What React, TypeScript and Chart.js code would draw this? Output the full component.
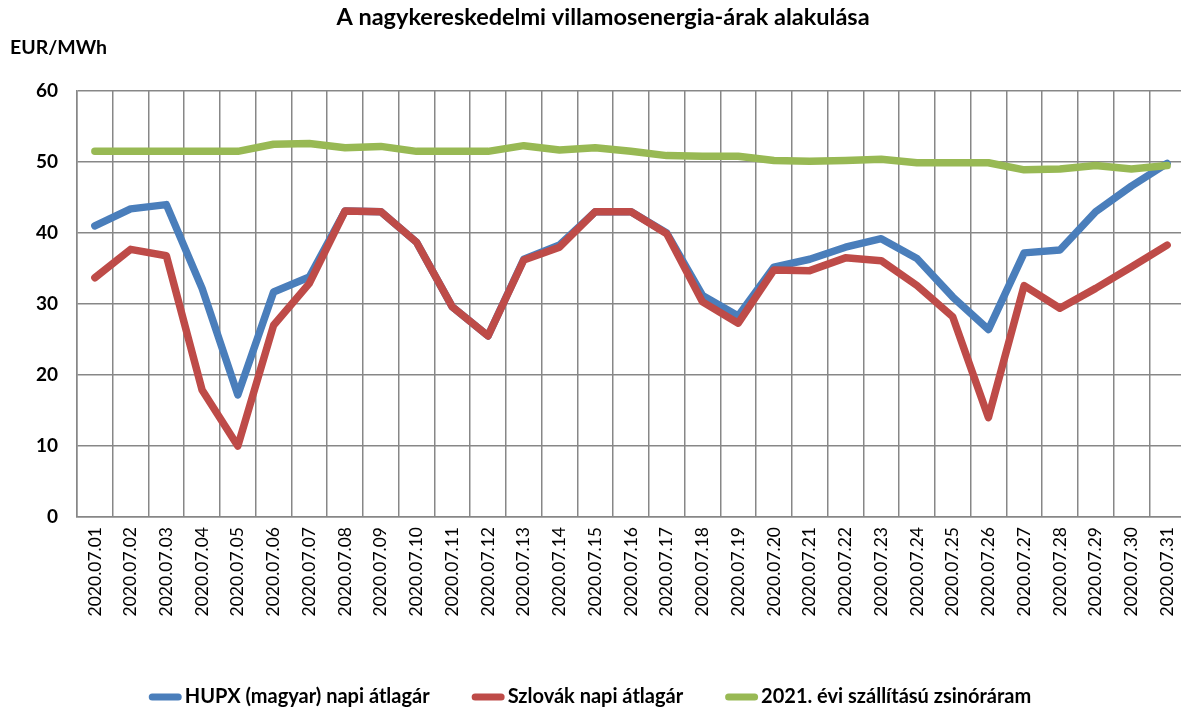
import React, { useEffect, useRef } from "react";
import { Chart, registerables } from "chart.js";

Chart.register(...registerables);

const TITLE = "A nagykereskedelmi villamosenergia-árak alakulása";
const UNIT = "EUR/MWh";

const categories = [
  "2020.07.01", "2020.07.02", "2020.07.03", "2020.07.04", "2020.07.05", "2020.07.06",
  "2020.07.07", "2020.07.08", "2020.07.09", "2020.07.10", "2020.07.11", "2020.07.12",
  "2020.07.13", "2020.07.14", "2020.07.15", "2020.07.16", "2020.07.17", "2020.07.18",
  "2020.07.19", "2020.07.20", "2020.07.21", "2020.07.22", "2020.07.23", "2020.07.24",
  "2020.07.25", "2020.07.26", "2020.07.27", "2020.07.28", "2020.07.29", "2020.07.30",
  "2020.07.31",
];

const hupx = [
  41.0, 43.4, 44.0, 32.2, 17.2, 31.7, 33.8, 43.1, 43.0, 38.7, 29.6, 25.5, 36.3, 38.3,
  43.0, 43.0, 40.0, 31.2, 28.3, 35.2, 36.3, 38.0, 39.2, 36.4, 31.0, 26.4, 37.2, 37.6,
  43.0, 46.6, 49.8,
];

const szlovak = [
  33.7, 37.7, 36.8, 17.9, 10.0, 27.0, 32.9, 43.1, 43.0, 38.7, 29.6, 25.5, 36.2, 38.0,
  43.0, 43.0, 39.9, 30.3, 27.3, 34.8, 34.7, 36.5, 36.1, 32.6, 28.2, 14.0, 32.6, 29.4,
  32.2, 35.2, 38.3,
];

const zsinor = [
  51.5, 51.5, 51.5, 51.5, 51.5, 52.5, 52.6, 52.0, 52.2, 51.5, 51.5, 51.5, 52.3, 51.7,
  52.0, 51.5, 50.9, 50.8, 50.8, 50.2, 50.1, 50.2, 50.4, 49.9, 49.9, 49.9, 48.9, 49.0,
  49.5, 49.0, 49.5,
];

const seriesNames = [
  "HUPX (magyar) napi átlagár",
  "Szlovák napi átlagár",
  "2021. évi szállítású zsinóráram",
];
const seriesColors = ["#4a7ebb", "#be4b48", "#98b954"];

const yTicks = [0, 10, 20, 30, 40, 50, 60];

const FONT = "Lato, 'Open Sans', sans-serif";
const GRID = "#878787";

const textPlugin = {
  id: "customTexts",
  afterDraw(chart: any) {
    const ctx = chart.ctx as CanvasRenderingContext2D;
    ctx.save();
    ctx.fillStyle = "#000";
    ctx.textBaseline = "middle";
    // title
    ctx.font = `bold 23.5px ${FONT}`;
    ctx.textAlign = "center";
    ctx.fillText(TITLE, 603, 17);
    // unit
    ctx.font = `bold 19.5px ${FONT}`;
    ctx.textAlign = "left";
    ctx.fillText(UNIT, 10, 48);
    // legend
    ctx.font = `bold 20px ${FONT}`;
    const markerW = 33;
    const markerGap = 3;
    const itemGap = 42;
    const widths = seriesNames.map((n) => ctx.measureText(n).width);
    const total =
      widths.reduce((a, b) => a + b, 0) + seriesNames.length * (markerW + markerGap) + itemGap * (seriesNames.length - 1);
    let x = 590 - total / 2;
    const y = 697;
    seriesNames.forEach((name, i) => {
      ctx.strokeStyle = seriesColors[i];
      ctx.lineWidth = 7;
      ctx.lineCap = "round";
      ctx.beginPath();
      ctx.moveTo(x + 3.5, y);
      ctx.lineTo(x + markerW - 3.5, y);
      ctx.stroke();
      ctx.fillStyle = "#000";
      ctx.textAlign = "left";
      ctx.fillText(name, x + markerW + markerGap, y);
      x += markerW + markerGap + widths[i] + itemGap;
    });
    ctx.restore();
  },
};

export default function App() {
  const canvasRef = useRef<HTMLCanvasElement | null>(null);

  useEffect(() => {
    if (!canvasRef.current) return;
    const mk = (i: number, data: number[], order: number) => ({
      label: seriesNames[i],
      data,
      borderColor: seriesColors[i],
      backgroundColor: seriesColors[i],
      borderWidth: 7.5,
      borderJoinStyle: "round" as const,
      borderCapStyle: "round" as const,
      pointRadius: 0,
      pointHoverRadius: 0,
      tension: 0,
      fill: false,
      order,
    });
    const chart = new Chart(canvasRef.current, {
      type: "line",
      data: {
        labels: categories,
        datasets: [mk(0, hupx, 3), mk(1, szlovak, 2), mk(2, zsinor, 1)],
      },
      options: {
        responsive: false,
        animation: false,
        layout: { padding: { left: 0, right: 15, top: 91, bottom: 0 } },
        plugins: {
          legend: { display: false },
          title: { display: false },
          tooltip: { enabled: false },
        },
        scales: {
          x: {
            type: "category",
            offset: true,
            grid: {
              offset: true,
              color: GRID,
              lineWidth: 1.5,
              drawTicks: false,
            },
            border: { color: GRID, width: 1.5 },
            ticks: {
              autoSkip: false,
              maxRotation: 90,
              minRotation: 90,
              padding: 10,
              color: "#000",
              font: { family: FONT, size: 17.5 },
            },
            afterFit: (scale: any) => {
              scale.height = 194;
            },
          },
          y: {
            min: 0,
            max: 60,
            afterBuildTicks: (scale: any) => {
              scale.ticks = yTicks.map((v) => ({ value: v }));
            },
            grid: { color: GRID, lineWidth: 1.5, drawTicks: false },
            border: { color: GRID, width: 1.5 },
            ticks: {
              padding: 19,
              color: "#000",
              font: { family: FONT, size: 19, weight: "bold" },
            },
            afterFit: (scale: any) => {
              scale.width = 77;
            },
          },
        },
      },
      plugins: [textPlugin],
    });
    return () => chart.destroy();
  }, []);

  return (
    <div
      style={{
        position: "fixed",
        left: 0,
        top: 0,
        width: 1181,
        height: 711,
        overflow: "hidden",
        background: "#fff",
      }}
    >
      <canvas ref={canvasRef} width={1200} height={711} style={{ display: "block" }} />
    </div>
  );
}
